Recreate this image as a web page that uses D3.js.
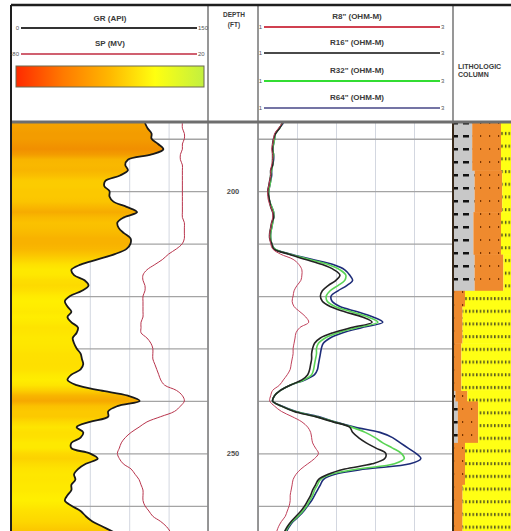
<!DOCTYPE html>
<html>
<head>
<meta charset="utf-8">
<script src="https://cdn.jsdelivr.net/npm/d3@7"></script>
<style>
    body { margin: 0; background: #fff; }
    svg text { font-family: "Liberation Sans", Arial, sans-serif; }
</style>
</head>
<body>
<div id="chart"></div>
<script>
// depth index (ft), one sample per foot
const depthTop = 187;
const depthBase = 265;
const depths = d3.range(depthTop, depthBase + 1);

// gamma ray (API)
const grValues = [102,104,107,107,112,116,107,89,87,89,
    83,72,71,75,75,78,88,96,86,81,
    82,86,91,91,88,79,66,53,46,48,
    56,59,54,45,41,43,46,43,46,51,
    50,47,48,50,53,54,55,53,46,43,
    50,68,89,98,81,74,74,60,50,55,
    53,46,46,60,66,57,51,48,49,46,
    46,43,41,46,53,57,62,70,78];

// spontaneous potential (mV)
const spValues = [7,7,8,8,7,7,6,6,7,7,
    7,7,7,7,7,7,7,7,7,8,
    8,8,8,7,4,0,-3,-7,-11,-13,
    -13,-12,-12,-13,-13,-13,-13,-13,-14,-14,
    -14,-11,-9,-8,-8,-8,-7,-6,-5,-4,
    -2,4,7,8,6,3,-4,-11,-15,-19,
    -22,-24,-25,-26,-25,-23,-19,-17,-15,-14,
    -13,-13,-13,-12,-10,-8,-4,-1,1];

// resistivity (ohm-m)
const r8Values = [1.25,1.21,1.17,1.16,1.15,1.14,1.15,1.15,1.14,1.13,
    1.13,1.12,1.11,1.10,1.10,1.11,1.13,1.15,1.15,1.14,
    1.13,1.12,1.12,1.13,1.15,1.23,1.36,1.42,1.45,1.45,
    1.44,1.40,1.37,1.36,1.35,1.37,1.43,1.49,1.52,1.43,
    1.39,1.38,1.37,1.36,1.36,1.35,1.34,1.33,1.30,1.26,
    1.22,1.15,1.13,1.12,1.17,1.24,1.35,1.45,1.51,1.54,
    1.55,1.56,1.59,1.62,1.58,1.51,1.44,1.39,1.36,1.35,
    1.34,1.33,1.33,1.32,1.30,1.28,1.24,1.21,1.19];
const r16Values = [1.25,1.22,1.18,1.16,1.15,1.15,1.15,1.15,1.15,1.13,
    1.13,1.12,1.11,1.10,1.11,1.12,1.13,1.15,1.16,1.14,
    1.13,1.12,1.12,1.14,1.16,1.31,1.48,1.66,1.78,1.84,
    1.80,1.72,1.66,1.64,1.66,1.74,1.89,2.07,2.17,1.96,
    1.77,1.64,1.58,1.56,1.55,1.55,1.54,1.53,1.51,1.45,
    1.33,1.23,1.17,1.15,1.24,1.37,1.59,1.77,1.94,1.97,
    2.03,2.11,2.21,2.31,2.30,2.17,1.89,1.72,1.62,1.59,
    1.56,1.54,1.51,1.48,1.44,1.39,1.34,1.30,1.27];
const r32Values = [1.25,1.22,1.18,1.17,1.16,1.15,1.16,1.15,1.15,1.14,
    1.13,1.13,1.12,1.11,1.11,1.12,1.14,1.16,1.16,1.15,
    1.14,1.13,1.13,1.14,1.17,1.32,1.52,1.72,1.84,1.90,
    1.89,1.82,1.74,1.70,1.71,1.79,1.96,2.13,2.23,2.02,
    1.82,1.69,1.62,1.60,1.60,1.59,1.58,1.57,1.55,1.47,
    1.33,1.23,1.17,1.15,1.24,1.38,1.60,1.78,1.96,2.10,
    2.20,2.28,2.38,2.47,2.50,2.40,2.02,1.75,1.64,1.61,
    1.58,1.56,1.53,1.50,1.46,1.41,1.35,1.31,1.28];
const r64Values = [1.26,1.22,1.18,1.17,1.16,1.15,1.16,1.16,1.15,1.14,
    1.14,1.13,1.12,1.11,1.11,1.12,1.14,1.16,1.16,1.15,
    1.14,1.13,1.13,1.14,1.17,1.33,1.55,1.77,1.89,1.94,
    1.97,1.91,1.82,1.75,1.76,1.84,2.02,2.18,2.28,2.07,
    1.87,1.74,1.67,1.65,1.64,1.63,1.62,1.61,1.58,1.48,
    1.33,1.23,1.17,1.15,1.25,1.39,1.62,1.79,1.99,2.25,
    2.38,2.46,2.54,2.62,2.67,2.56,2.10,1.79,1.67,1.64,
    1.61,1.58,1.55,1.51,1.47,1.42,1.36,1.32,1.29];

// grid / labels
const gridDepths = [190, 200, 210, 220, 230, 240, 250, 260];
const depthLabels = [200, 250];
const grTicks = [0, 30, 60, 90, 120, 150];
const resTicks = [1, 1.4, 1.8, 2.2, 2.6, 3];
const grScaleLabels = ['0', '150'];
const spScaleLabels = ['-80', '20'];
const resScaleLabels = ['1', '3'];
const resNames = ['R8" (OHM-M)', 'R16" (OHM-M)', 'R32" (OHM-M)', 'R64" (OHM-M)'];
const lithTitle = ['LITHOLOGIC', 'COLUMN'];

// lithology intervals, percent of column
const lithTops =  [187, 196, 204, 212, 219, 222, 229, 238, 240, 248, 256];
const lithBases = [196, 204, 212, 219, 222, 229, 238, 240, 248, 256, 265];
const shalePct =  [16, 18, 17, 18, 0, 0, 0, 2, 4, 0, 0];
const siltPct =   [24, 23, 23, 24, 10, 8, 7, 10, 17, 10, 8];

class WellLog {
    constructor(_config) {
        this.config = {
            parentElement: _config.parentElement,
            containerWidth: 511,
            containerHeight: 531,
            top: 5,
            headerBottom: 122,
            track1: [11, 208],
            depthTrack: [208, 258],
            track2: [258, 453],
            lith: [453, 573]
        }
        this.initVis();
    }

    initVis() {
        let vis = this;
        const c = vis.config;

        vis.svg = d3.select(c.parentElement).append('svg')
            .attr('width', c.containerWidth)
            .attr('height', c.containerHeight);

        vis.defs = vis.svg.append('defs');

        vis.yScale = d3.scaleLinear().domain([depthTop, depthBase]).range([123, 532]);
        vis.grScale = d3.scaleLinear().domain([0, 150]).range(c.track1);
        vis.spScale = d3.scaleLinear().domain([-80, 20]).range(c.track1);
        vis.resScale = d3.scaleLinear().domain([1, 3]).range(c.track2);
        vis.lithScale = d3.scaleLinear().domain([0, 100]).range(c.lith);

        vis.grColor = d3.scaleLinear().domain([40, 80, 118]).range(['#fff000', '#fbc200', '#f08c00']);

        vis.rows = depths.map((d, i) => ({
            depth: d, gr: grValues[i], sp: spValues[i],
            r8: r8Values[i], r16: r16Values[i], r32: r32Values[i], r64: r64Values[i]
        }));

        vis.renderVis();
    }

    renderVis() {
        let vis = this;
        const c = vis.config;
        const y0 = vis.yScale.range()[0], y1 = vis.yScale.range()[1];

        // grids
        const vGrid1 = d3.axisTop(vis.grScale).tickValues(grTicks).tickSize(-(y1 - y0)).tickFormat('');
        const vGrid2 = d3.axisTop(vis.resScale).tickValues(resTicks).tickSize(-(y1 - y0)).tickFormat('');
        const hGrid1 = d3.axisLeft(vis.yScale).tickValues(gridDepths).tickSize(-(c.track1[1] - c.track1[0])).tickFormat('');
        const hGrid2 = d3.axisLeft(vis.yScale).tickValues(gridDepths).tickSize(-(c.track2[1] - c.track2[0])).tickFormat('');

        const styleGrid = (g, col, w) => {
            g.select('.domain').remove();
            g.selectAll('line').attr('stroke', col).attr('stroke-width', w);
        };
        vis.svg.append('g').attr('transform', `translate(0,${y0})`).call(vGrid1).call(g => styleGrid(g, '#d3d7e0', 1));
        vis.svg.append('g').attr('transform', `translate(0,${y0})`).call(vGrid2).call(g => styleGrid(g, '#d3d7e0', 1));
        vis.svg.append('g').attr('transform', `translate(${c.track1[0]},0)`).call(hGrid1).call(g => styleGrid(g, '#a4a4a4', 1.3));
        vis.svg.append('g').attr('transform', `translate(${c.track2[0]},0)`).call(hGrid2).call(g => styleGrid(g, '#a4a4a4', 1.3));

        // GR fill coloured by GR value along depth
        const grad = vis.defs.append('linearGradient')
            .attr('id', 'grFill')
            .attr('gradientUnits', 'userSpaceOnUse')
            .attr('x1', 0).attr('x2', 0)
            .attr('y1', y0).attr('y2', y1);
        grad.selectAll('stop')
            .data(vis.rows)
            .join('stop')
            .attr('offset', d => (vis.yScale(d.depth) - y0) / (y1 - y0))
            .attr('stop-color', d => vis.grColor(d.gr));

        const curve = d3.curveCatmullRom.alpha(0.5);
        const grArea = d3.area()
            .y(d => vis.yScale(d.depth))
            .x0(c.track1[0] + 1)
            .x1(d => vis.grScale(d.gr))
            .curve(curve);
        vis.svg.append('path').datum(vis.rows)
            .attr('d', grArea)
            .attr('fill', 'url(#grFill)');

        const lineOf = (scale, key) => d3.line()
            .y(d => vis.yScale(d.depth))
            .x(d => scale(d[key]))
            .curve(curve);

        vis.svg.append('path').datum(vis.rows)
            .attr('d', lineOf(vis.grScale, 'gr'))
            .attr('fill', 'none').attr('stroke', '#1a1a1a').attr('stroke-width', 1.8);
        vis.svg.append('path').datum(vis.rows)
            .attr('d', lineOf(vis.spScale, 'sp'))
            .attr('fill', 'none').attr('stroke', '#b8344c').attr('stroke-width', 1);

        // resistivity curves
        const resStyles = [
            { key: 'r8', color: '#c0405a', w: 1 },
            { key: 'r16', color: '#232323', w: 1.6 },
            { key: 'r32', color: '#5ad455', w: 1.6 },
            { key: 'r64', color: '#1d2c78', w: 1.6 }
        ];
        vis.svg.selectAll('.res')
            .data(resStyles.slice().reverse())
            .join('path')
            .attr('class', 'res')
            .attr('d', s => lineOf(vis.resScale, s.key)(vis.rows))
            .attr('fill', 'none')
            .attr('stroke', s => s.color)
            .attr('stroke-width', s => s.w);

        // lithology patterns
        const shale = vis.defs.append('pattern').attr('id', 'shale')
            .attr('patternUnits', 'userSpaceOnUse').attr('width', 11).attr('height', 13);
        shale.append('rect').attr('width', 11).attr('height', 13).attr('fill', '#c8c8c8');
        shale.append('rect').attr('x', 1).attr('y', 5).attr('width', 6).attr('height', 2.5).attr('fill', '#111');

        const silt = vis.defs.append('pattern').attr('id', 'silt')
            .attr('patternUnits', 'userSpaceOnUse').attr('width', 9).attr('height', 13);
        silt.append('rect').attr('width', 9).attr('height', 13).attr('fill', '#ef8a2e');
        silt.append('rect').attr('x', 3).attr('y', 5).attr('width', 1.2).attr('height', 2).attr('fill', '#7a3400');

        const sand = vis.defs.append('pattern').attr('id', 'sand')
            .attr('patternUnits', 'userSpaceOnUse').attr('width', 3.6).attr('height', 12.7);
        sand.append('rect').attr('width', 3.6).attr('height', 12.7).attr('fill', '#ffff14');
        sand.append('rect').attr('x', 1).attr('y', 5).attr('width', 1.3).attr('height', 3).attr('fill', '#3a3a20');

        const lith = lithTops.map((t, i) => ({ top: t, base: lithBases[i], shale: shalePct[i], silt: siltPct[i] }));
        const lithG = vis.svg.append('g');
        const seg = (cls, fill, from, to) => {
            lithG.selectAll('.' + cls)
                .data(lith)
                .join('rect')
                .attr('class', cls)
                .attr('x', d => vis.lithScale(from(d)))
                .attr('y', d => vis.yScale(d.top))
                .attr('width', d => Math.max(0, vis.lithScale(to(d)) - vis.lithScale(from(d))))
                .attr('height', d => vis.yScale(d.base) - vis.yScale(d.top) + 0.5)
                .attr('fill', fill);
        };
        seg('l-shale', 'url(#shale)', d => 0, d => d.shale);
        seg('l-silt', 'url(#silt)', d => d.shale, d => d.shale + d.silt);
        seg('l-sand', 'url(#sand)', d => d.shale + d.silt, d => 100);

        // depth labels
        vis.svg.selectAll('.depth-label')
            .data(depthLabels)
            .join('text')
            .attr('class', 'depth-label')
            .attr('x', 233)
            .attr('y', d => vis.yScale(d) + 3)
            .attr('text-anchor', 'middle')
            .attr('font-size', 7.5)
            .attr('font-weight', 'bold')
            .attr('fill', '#505050')
            .text(d => d);

        // header background + frame
        vis.svg.append('rect').attr('x', c.track1[0]).attr('y', c.top)
            .attr('width', c.containerWidth).attr('height', c.headerBottom - c.top)
            .attr('fill', '#fff');

        const frame = vis.svg.append('g');
        [c.depthTrack[0], c.depthTrack[1], c.track2[1]].forEach(x => {
            frame.append('line').attr('x1', x).attr('x2', x).attr('y1', c.top).attr('y2', c.containerHeight)
                .attr('stroke', '#8c8c8c').attr('stroke-width', 1.8);
        });
        frame.append('line').attr('x1', c.track2[1]).attr('x2', c.track2[1]).attr('y1', c.headerBottom).attr('y2', c.containerHeight)
            .attr('stroke', '#3a2a1a').attr('stroke-width', 2);
        frame.append('line').attr('x1', c.track1[0]).attr('x2', c.containerWidth).attr('y1', c.headerBottom).attr('y2', c.headerBottom)
            .attr('stroke', '#6e6e6e').attr('stroke-width', 3);
        frame.append('line').attr('x1', c.track1[0]).attr('x2', c.containerWidth).attr('y1', c.top).attr('y2', c.top)
            .attr('stroke', '#1e1e1e').attr('stroke-width', 2.5);
        frame.append('line').attr('x1', c.track1[0]).attr('x2', c.track1[0]).attr('y1', c.top).attr('y2', c.containerHeight)
            .attr('stroke', '#1e1e1e').attr('stroke-width', 2);

        // header: track 1
        const hdr = vis.svg.append('g');
        const title = (x, y, t, size) => hdr.append('text')
            .attr('x', x).attr('y', y).attr('text-anchor', 'middle')
            .attr('font-size', size || 8).attr('font-weight', 'bold')
            .attr('fill', '#3a3a3a').text(t);
        const scaleLine = (xa, xb, y, color, labels) => {
            hdr.append('line').attr('x1', xa).attr('x2', xb).attr('y1', y).attr('y2', y)
                .attr('stroke', color).attr('stroke-width', 2.2);
            hdr.append('text').attr('x', xa - 2).attr('y', y + 2).attr('text-anchor', 'end')
                .attr('font-size', 6).attr('fill', '#555').text(labels[0]);
            hdr.append('text').attr('x', xb + 1).attr('y', y + 2).attr('text-anchor', 'start')
                .attr('font-size', 6).attr('fill', '#555').text(labels[1]);
        };

        title(110, 21, 'GR (API)');
        scaleLine(21, 197, 28, '#333', grScaleLabels);
        title(110, 46, 'SP (MV)');
        scaleLine(21, 197, 54, '#d06070', spScaleLabels);

        const bar = vis.defs.append('linearGradient').attr('id', 'grBar');
        [['0%', '#ff2a00'], ['25%', '#ff7a00'], ['50%', '#ffb800'], ['74%', '#ffff10'], ['100%', '#c2f040']]
            .forEach(s => bar.append('stop').attr('offset', s[0]).attr('stop-color', s[1]));
        hdr.append('rect').attr('x', 16).attr('y', 66).attr('width', 188).attr('height', 21)
            .attr('fill', 'url(#grBar)').attr('stroke', '#6a6a50').attr('stroke-width', 1);

        // header: depth
        title(234, 17, 'DEPTH', 6.5);
        title(234, 27, '(FT)', 6.5);

        // header: track 2
        const resColors = ['#d04050', '#4a4a4a', '#33dd33', '#7474a4'];
        const lineYs = [27, 53, 81, 108];
        resNames.forEach((n, i) => {
            title(357, lineYs[i] - 8, n);
            scaleLine(264, 440, lineYs[i], resColors[i], resScaleLabels);
        });

        // header: lithology, wrapped to stay inside the visible column
        hdr.append('text').attr('x', 458).attr('y', 69).attr('font-size', 7)
            .attr('font-weight', 'bold').attr('fill', '#3a3a3a')
            .selectAll('tspan')
            .data(lithTitle)
            .join('tspan')
            .attr('x', 458)
            .attr('dy', (d, i) => i ? 8 : 0)
            .text(d => d);
    }
}

const log = new WellLog({ parentElement: '#chart' });
</script>
</body>
</html>
